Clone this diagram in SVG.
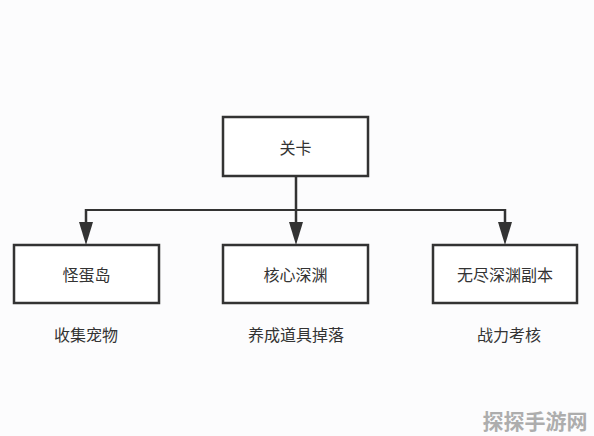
<svg xmlns="http://www.w3.org/2000/svg" width="594" height="436" viewBox="0 0 594 436">
<defs>
<style>
.box{fill:#ffffff;stroke:#333333;stroke-width:2.5}
.t{font-family:"Noto Sans CJK SC","Noto Sans",sans-serif;font-size:16px;fill:#333333;text-anchor:middle;dominant-baseline:central}
.ln{fill:none;stroke:#333333;stroke-width:2.5}
.hz{fill:none;stroke:#333333;stroke-width:2}
.ah{fill:#333333}
.wm{font-family:"Noto Sans CJK SC",sans-serif;font-size:21px;font-weight:bold;fill:#9a9a9a;text-anchor:middle;dominant-baseline:central;opacity:0.8}
</style>
</defs>
<rect width="594" height="436" fill="#fcfcfd"/>
<g id="connectors">
<line class="ln" x1="296" y1="176" x2="296" y2="223"/>
<line class="hz" x1="86" y1="210" x2="505" y2="210"/>
<line class="ln" x1="86" y1="209" x2="86" y2="223"/>
<line class="ln" x1="505" y1="209" x2="505" y2="223"/>
<path class="ah" d="M289,222 L303,222 L296,245 Z"/>
<path class="ah" d="M79,222 L93,222 L86,245 Z"/>
<path class="ah" d="M498,222 L512,222 L505,245 Z"/>
</g>
<g id="node-guanka">
<rect class="box" x="223" y="117" width="145" height="59"/>
<text class="t" x="295.5" y="147">关卡</text>
</g>
<g id="node-guaidandao">
<rect class="box" x="14" y="245" width="145" height="58"/>
<text class="t" x="86.5" y="274">怪蛋岛</text>
</g>
<g id="node-hexinshenyuan">
<rect class="box" x="223" y="245" width="145" height="58"/>
<text class="t" x="295.5" y="274">核心深渊</text>
</g>
<g id="node-wujin">
<rect class="box" x="433" y="245" width="144" height="58"/>
<text class="t" x="505" y="274">无尽深渊副本</text>
</g>
<g id="labels">
<text class="t" x="86" y="334">收集宠物</text>
<text class="t" x="296" y="334">养成道具掉落</text>
<text class="t" x="509" y="334">战力考核</text>
</g>
<text class="wm" x="535" y="420">探探手游网</text>
</svg>
